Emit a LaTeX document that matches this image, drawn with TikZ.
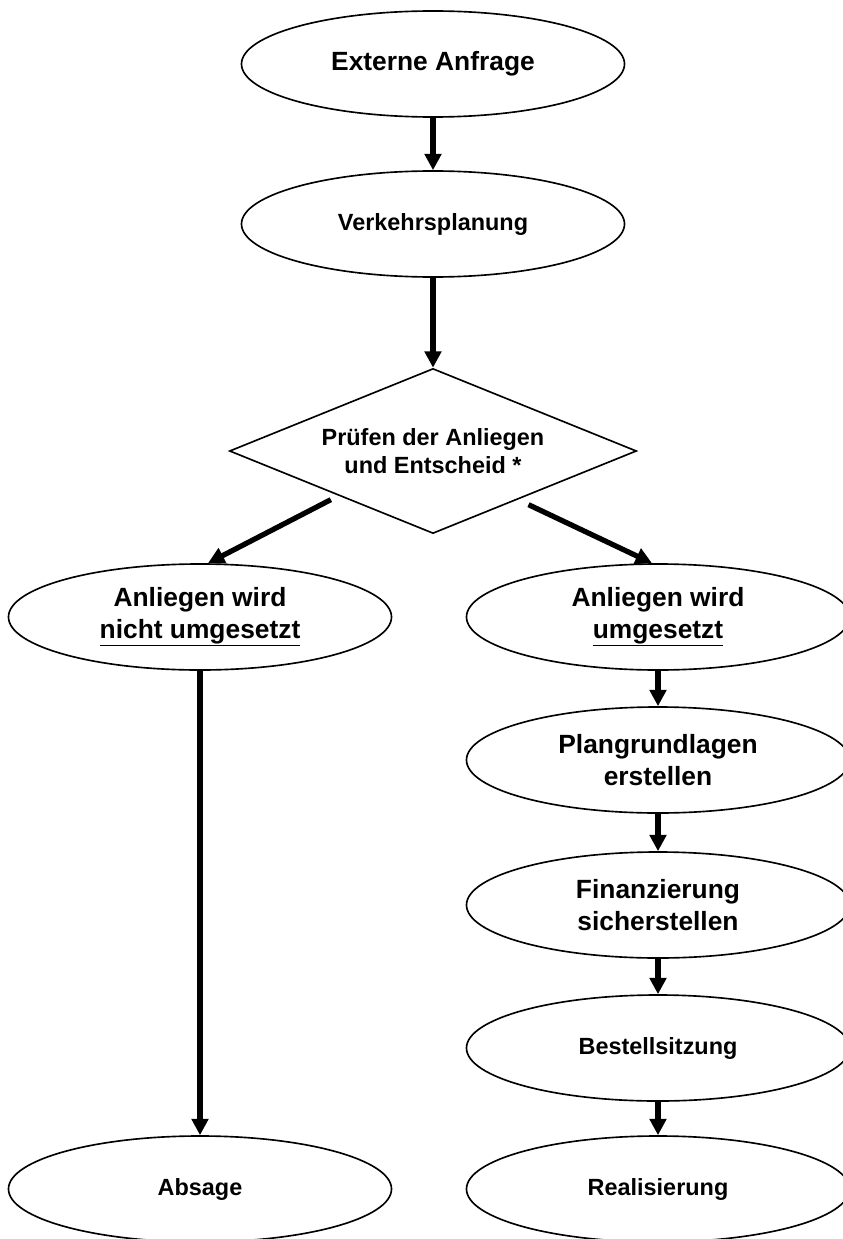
\documentclass[tikz,border=0pt]{standalone}
\usepackage{fontspec}
\setmainfont{Liberation Sans}
\usetikzlibrary{shapes.geometric,arrows.meta,positioning}
\tikzset{
  oval/.style={
    shape = ellipse,
    draw,
    line width = 1.4pt,
    inner sep = 0pt,
    minimum width = 11.49cm,
    minimum height = 3.18cm,
    align = center,
    font = \fontsize{20}{24}\selectfont\bfseries
  },
  bigoval/.style={
    oval,
    font = \fontsize{22.5}{27}\selectfont\bfseries
  },
  decision/.style={
    shape = diamond,
    draw,
    line width = 1.4pt,
    inner sep = 0pt,
    aspect = 2.47,
    minimum width = 12.21cm,
    minimum height = 4.95cm,
    align = center,
    font = \fontsize{20}{24}\selectfont\bfseries
  },
  flow/.style={
    -{Triangle[width=14pt,length=14pt]},
    line width = 4.5pt
  }
}

\begin{document}
\begin{tikzpicture}[x=0.03cm,y=-0.03cm]
    \def\xl{200}
    \def\xm{433}
    \def\xr{658}
    \useasboundingbox (0,0) rectangle (842,1239);
        \node[bigoval] (anfrage) at (\xm,64) {Externe Anfrage};
        \node[oval] (planung) at (\xm,224) {Verkehrsplanung};
        \node[decision] (pruefen) at (\xm,451) {Prüfen der Anliegen\\und Entscheid *};
        \node[bigoval] (nein) at (\xl,617) {Anliegen wird\\\underline{nicht umgesetzt}};
        \node[bigoval] (ja) at (\xr,617) {Anliegen wird\\\underline{umgesetzt}};
        \node[bigoval] (grundlagen) at (\xr,760) {Plangrundlagen\\erstellen};
        \node[bigoval] (finanz) at (\xr,905) {Finanzierung\\sicherstellen};
        \node[oval] (bestellung) at (\xr,1048) {Bestellsitzung};
        \node[oval] (absage) at (\xl,1189) {Absage};
        \node[oval] (real) at (\xr,1189) {Realisierung};
        \draw[flow] (anfrage) -- (planung);
        \draw[flow] (planung) -- (pruefen);
        \draw[flow] ([yshift=-0.21cm]pruefen.south west) -- ([xshift=0.24cm]nein.north);
        \draw[flow] ([shift={(-0.2cm,-0.36cm)}]pruefen.south east) -- ([xshift=-0.18cm]ja.north);
        \draw[flow] (nein) -- (absage);
        \foreach \a/\b in {ja/grundlagen, grundlagen/finanz, finanz/bestellung, bestellung/real}{
        \draw[flow] (\a) -- (\b);
        }
    \end{tikzpicture}
\end{document}
